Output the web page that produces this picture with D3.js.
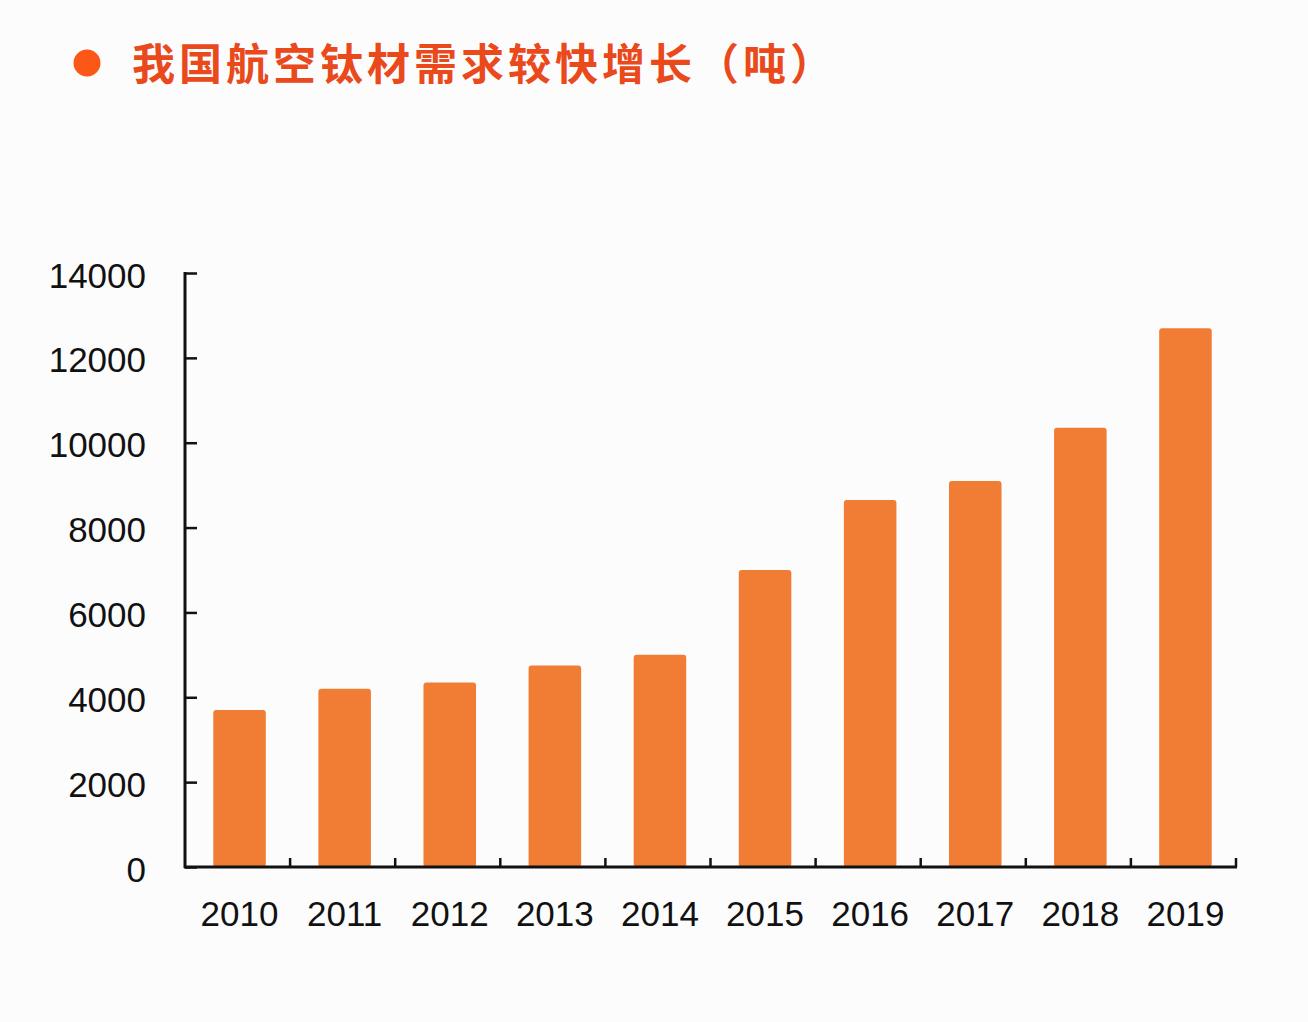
<!DOCTYPE html>
<html>
<head>
<meta charset="utf-8">
<script src="https://cdn.jsdelivr.net/npm/d3@7"></script>
<style>
	html, body { margin: 0; padding: 0; background: #fdfcfd; }
	svg { display: block; }
</style>
</head>
<body>
<svg width="1308" height="1022"></svg>
<script>
const title = "我国航空钛材需求较快增长（吨）";
const years = ["2010", "2011", "2012", "2013", "2014", "2015", "2016", "2017", "2018", "2019"];
const demand = [3700, 4200, 4350, 4750, 5000, 7000, 8650, 9100, 10350, 12700];
const yTicks = [0, 2000, 4000, 6000, 8000, 10000, 12000, 14000];

const svg = d3.select("svg");

// title with the round bullet
svg.append("circle")
	.attr("cx", 87)
	.attr("cy", 63)
	.attr("r", 13.5)
	.attr("fill", "#fb5716");

svg.append("text")
	.attr("x", 132)
	.attr("y", 80)
	.attr("font-family", "'Noto Sans CJK SC', sans-serif")
	.attr("font-size", 43)
	.attr("font-weight", 700)
	.attr("letter-spacing", 4)
	.attr("fill", "#e9491b")
	.text(title);

const plotLeft = 185, plotRight = 1236, plotTop = 273, plotBottom = 867;

const x = d3.scaleBand()
	.domain(years)
	.range([plotLeft, plotRight])
	.paddingInner(0.5)
	.paddingOuter(0.25);

const y = d3.scaleLinear()
	.domain([0, 14000])
	.range([plotBottom, plotTop]);

// bars
svg.append("g")
	.selectAll("rect")
	.data(years)
	.join("rect")
	.attr("x", d => x(d) + 2)
	.attr("y", (d, i) => y(demand[i]))
	.attr("width", x.bandwidth())
	.attr("height", (d, i) => plotBottom - y(demand[i]))
	.attr("rx", 3)
	.attr("fill", "#f07d33");

// y axis
const yAxis = svg.append("g")
	.attr("transform", `translate(${plotLeft},0)`)
	.call(d3.axisRight(y).tickValues(yTicks).tickSize(12).tickFormat(""));
yAxis.select(".domain").remove();
yAxis.selectAll("line").attr("stroke", "#111").attr("stroke-width", 2.5);

svg.append("line")
	.attr("x1", plotLeft).attr("x2", plotLeft)
	.attr("y1", plotTop - 1).attr("y2", plotBottom + 1)
	.attr("stroke", "#111")
	.attr("stroke-width", 3);

svg.append("g")
	.selectAll("text")
	.data(yTicks)
	.join("text")
	.attr("x", 146)
	.attr("y", d => y(d) + 2)
	.attr("dy", "0.36em")
	.attr("text-anchor", "end")
	.attr("font-family", "'Liberation Sans', Arial, sans-serif")
	.attr("font-size", 35)
	.attr("fill", "#111")
	.text(d => d);

// x axis: line with small upward ticks between categories
const step = x.step();
const boundaries = d3.range(1, years.length + 1).map(i => plotLeft + i * step);

svg.append("line")
	.attr("x1", plotLeft - 1).attr("x2", plotRight + 1)
	.attr("y1", plotBottom).attr("y2", plotBottom)
	.attr("stroke", "#111")
	.attr("stroke-width", 3);

svg.append("g")
	.selectAll("line")
	.data(boundaries)
	.join("line")
	.attr("x1", d => d).attr("x2", d => d)
	.attr("y1", plotBottom).attr("y2", plotBottom - 9)
	.attr("stroke", "#111")
	.attr("stroke-width", 2.5);

svg.append("g")
	.selectAll("text")
	.data(years)
	.join("text")
	.attr("x", d => x(d) + x.bandwidth() / 2 + 2)
	.attr("y", 926)
	.attr("text-anchor", "middle")
	.attr("font-family", "'Liberation Sans', Arial, sans-serif")
	.attr("font-size", 35)
	.attr("fill", "#111")
	.text(d => d);
</script>
</body>
</html>
